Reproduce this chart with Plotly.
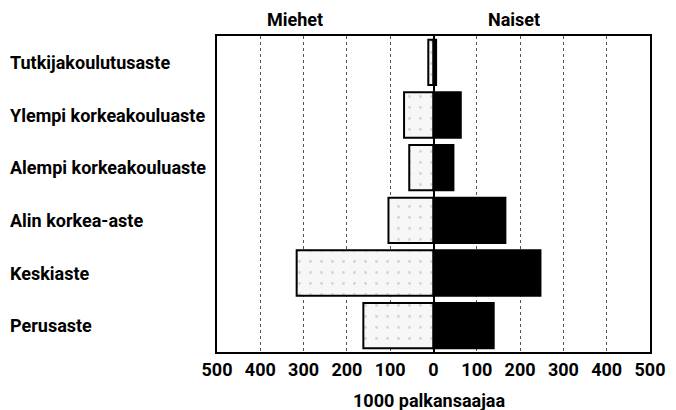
import plotly.graph_objects as go

# koulutusaste, ylhäältä alas
categories = ["Tutkijakoulutusaste", "Ylempi korkeakouluaste", "Alempi korkeakouluaste",
              "Alin korkea-aste", "Keskiaste", "Perusaste"]
men = [12, 68, 56, 104, 316, 162]      # 1000 palkansaajaa
women = [6, 63, 46, 166, 247, 139]
tick_vals = [-500, -400, -300, -200, -100, 0, 100, 200, 300, 400, 500]
tick_text = ["500", "400", "300", "200", "100", "0", "100", "200", "300", "400", "500"]

FONT = "Roboto, Liberation Sans, sans-serif"
txt = dict(family=FONT, size=18, color="black", weight="bold")

fig = go.Figure()

fig.add_trace(go.Bar(
    y=categories, x=[-v for v in men], orientation="h", name="Miehet",
    marker=dict(color="#f7f7f7", line=dict(color="black", width=2),
                pattern=dict(shape=".", fgcolor="#b0b0b0", bgcolor="#f7f7f7", size=11, solidity=0.05)),
))
fig.add_trace(go.Bar(
    y=categories, x=women, orientation="h", name="Naiset",
    marker=dict(color="black", line=dict(color="black", width=2)),
))

# vasemman reunan luokkanimet, tasattu vasemmalle
for c in categories:
    fig.add_annotation(x=-0.4827, xref="paper", y=c, yref="y", text=c, showarrow=False,
                       xanchor="left", font=txt)

fig.add_annotation(x=-320, y=1.0, xref="x", yref="paper", text="Miehet", showarrow=False,
                   yanchor="middle", yshift=17, font=txt)
fig.add_annotation(x=187, y=1.0, xref="x", yref="paper", text="Naiset", showarrow=False,
                   yanchor="middle", yshift=17, font=txt)
# x-akselin otsikko
fig.add_annotation(x=0.49, y=0, xref="paper", yref="paper", text="1000 palkansaajaa", showarrow=False,
                   yanchor="middle", yshift=-48, font=txt)

# sivun body-marginaali (8 px) huomioitu koossa ja marginaaleissa
fig.update_layout(
    width=668, height=402,
    margin=dict(l=209, r=26, t=28, b=58),
    barmode="relative", bargap=0.14,
    showlegend=False,
    plot_bgcolor="white", paper_bgcolor="white",
    font=txt,
    xaxis=dict(range=[-500, 500], tickvals=tick_vals, ticktext=tick_text,
               showgrid=True, gridcolor="#555", griddash="dot", gridwidth=1,
               zeroline=True, zerolinecolor="black", zerolinewidth=2,
               showline=True, linecolor="black", linewidth=2, mirror=True,
               ticks="", tickfont=txt, automargin=False),
    yaxis=dict(autorange="reversed", showticklabels=False, showgrid=False,
               showline=True, linecolor="black", linewidth=2, mirror=True, ticks=""),
)

fig.write_html("out.html")
